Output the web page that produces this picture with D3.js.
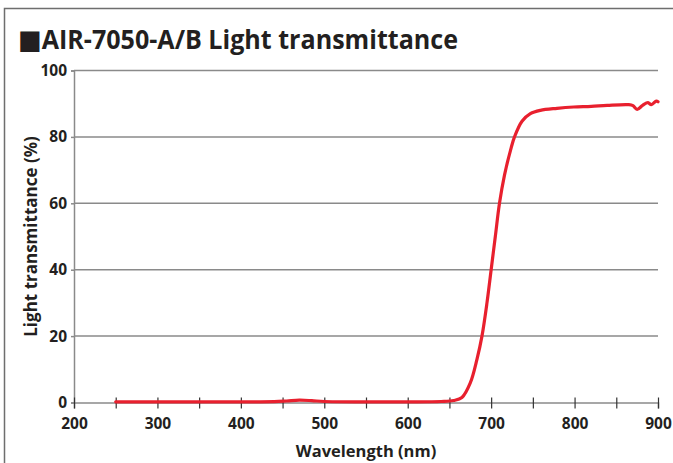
<!DOCTYPE html>
<html>
<head>
<meta charset="utf-8">
<script src="https://cdn.jsdelivr.net/npm/d3@7"></script>
<style>
  html, body { margin: 0; padding: 0; background: #fff; }
  svg { display: block; font-family: "Open Sans", "DejaVu Sans", sans-serif; }
</style>
</head>
<body>
<div id="chart"></div>
<script>
// Wavelength (nm) and transmittance (%)
const wavelength = [250, 300, 350, 400, 440, 455, 470, 485, 500, 550, 600, 640, 655, 665, 675, 683, 689, 695, 700, 705, 710, 716, 724, 728, 737, 747, 759, 779, 799, 820, 839, 865, 870, 875, 882, 888, 892, 898, 900];
const transmittance = [0.2, 0.2, 0.2, 0.2, 0.25, 0.45, 0.7, 0.55, 0.3, 0.2, 0.2, 0.3, 0.6, 1.5, 5.9, 13, 20, 30, 40, 50, 60, 68.5, 76.7, 80, 84.7, 87, 88, 88.6, 89, 89.2, 89.5, 89.7, 89.4, 88.3, 89.6, 90.3, 89.7, 90.8, 90.6];

const xTicks = d3.range(200, 901, 50);
const yTicks = [0, 20, 40, 60, 80, 100];

const width = 673, height = 463;
const margin = { top: 70.5, right: 15, bottom: 60.5, left: 74 };
const innerW = width - margin.left - margin.right;
const innerH = height - margin.top - margin.bottom;
const textColor = '#231f20';

const svg = d3.select('#chart').append('svg')
    .attr('width', width)
    .attr('height', height);

// Outer frame (only top and left edges visible)
svg.append('path')
    .attr('d', `M4.5,${height + 2} V8.5 H${width + 2}`)
    .attr('fill', 'none')
    .attr('stroke', '#6e6e6e')
    .attr('stroke-width', 1.5);

// Title
svg.append('text')
    .attr('x', 18)
    .attr('y', 49)
    .attr('fill', textColor)
    .style('font-size', '27px')
    .style('font-weight', 'bold')
    .attr('textLength', 440)
    .attr('lengthAdjust', 'spacingAndGlyphs')
    .text('■AIR-7050-A/B Light transmittance');

const g = svg.append('g')
    .attr('transform', `translate(${margin.left},${margin.top})`);

const x = d3.scaleLinear().domain([200, 900]).range([0, innerW]);
const y = d3.scaleLinear().domain([0, 100]).range([innerH, 0]);

// Horizontal gridlines
g.append('g')
    .selectAll('line')
    .data(yTicks.filter(d => d > 0))
    .enter()
    .append('line')
    .attr('x1', 0)
    .attr('x2', innerW)
    .attr('y1', d => y(d))
    .attr('y2', d => y(d))
    .attr('stroke', '#8a8a8a')
    .attr('stroke-width', 1.5);

// Y axis
const yAxis = g.append('g')
    .call(d3.axisLeft(y).tickValues(yTicks).tickSize(3).tickPadding(4));
yAxis.select('.domain').attr('stroke', '#8a8a8a').attr('stroke-width', 1.5);
yAxis.selectAll('.tick line').attr('stroke', '#8a8a8a').attr('stroke-width', 1.5);
yAxis.selectAll('.tick text')
    .attr('fill', textColor)
    .style('font-size', '15.5px')
    .style('font-weight', 'bold')
    .style('font-family', '"Open Sans", sans-serif');

// X axis (ticks cross the baseline)
const xAxis = g.append('g')
    .attr('transform', `translate(0,${innerH})`)
    .call(d3.axisBottom(x).tickValues(xTicks).tickSize(6).tickPadding(9)
        .tickFormat(d => d % 100 === 0 ? d : ''));
xAxis.select('.domain').attr('stroke', '#8a8a8a').attr('stroke-width', 1.5);
xAxis.selectAll('.tick line')
    .attr('y1', -5)
    .attr('y2', 6)
    .attr('stroke', '#333')
    .attr('stroke-width', 1.2);
xAxis.selectAll('.tick text')
    .attr('fill', textColor)
    .style('font-size', '15.5px')
    .style('font-weight', 'bold')
    .style('font-family', '"Open Sans", sans-serif');

// Axis titles
svg.append('text')
    .attr('x', margin.left + x(550))
    .attr('y', 457)
    .attr('text-anchor', 'middle')
    .attr('fill', textColor)
    .style('font-size', '16.5px')
    .style('font-weight', 'bold')
    .text('Wavelength (nm)');

svg.append('text')
    .attr('transform', `translate(37,${margin.top + y(50)}) rotate(-90)`)
    .attr('text-anchor', 'middle')
    .attr('fill', textColor)
    .style('font-size', '17px')
    .style('font-weight', 'bold')
    .text('Light transmittance (%)');

// Transmittance curve
const points = wavelength.map((w, i) => [w, transmittance[i]]);
const line = d3.line()
    .x(d => x(d[0]))
    .y(d => y(d[1]))
    .curve(d3.curveCatmullRom.alpha(0.5));

g.append('path')
    .datum(points)
    .attr('fill', 'none')
    .attr('stroke', '#e8202e')
    .attr('stroke-width', 3.2)
    .attr('stroke-linejoin', 'round')
    .attr('stroke-linecap', 'round')
    .attr('d', line);
</script>
</body>
</html>
